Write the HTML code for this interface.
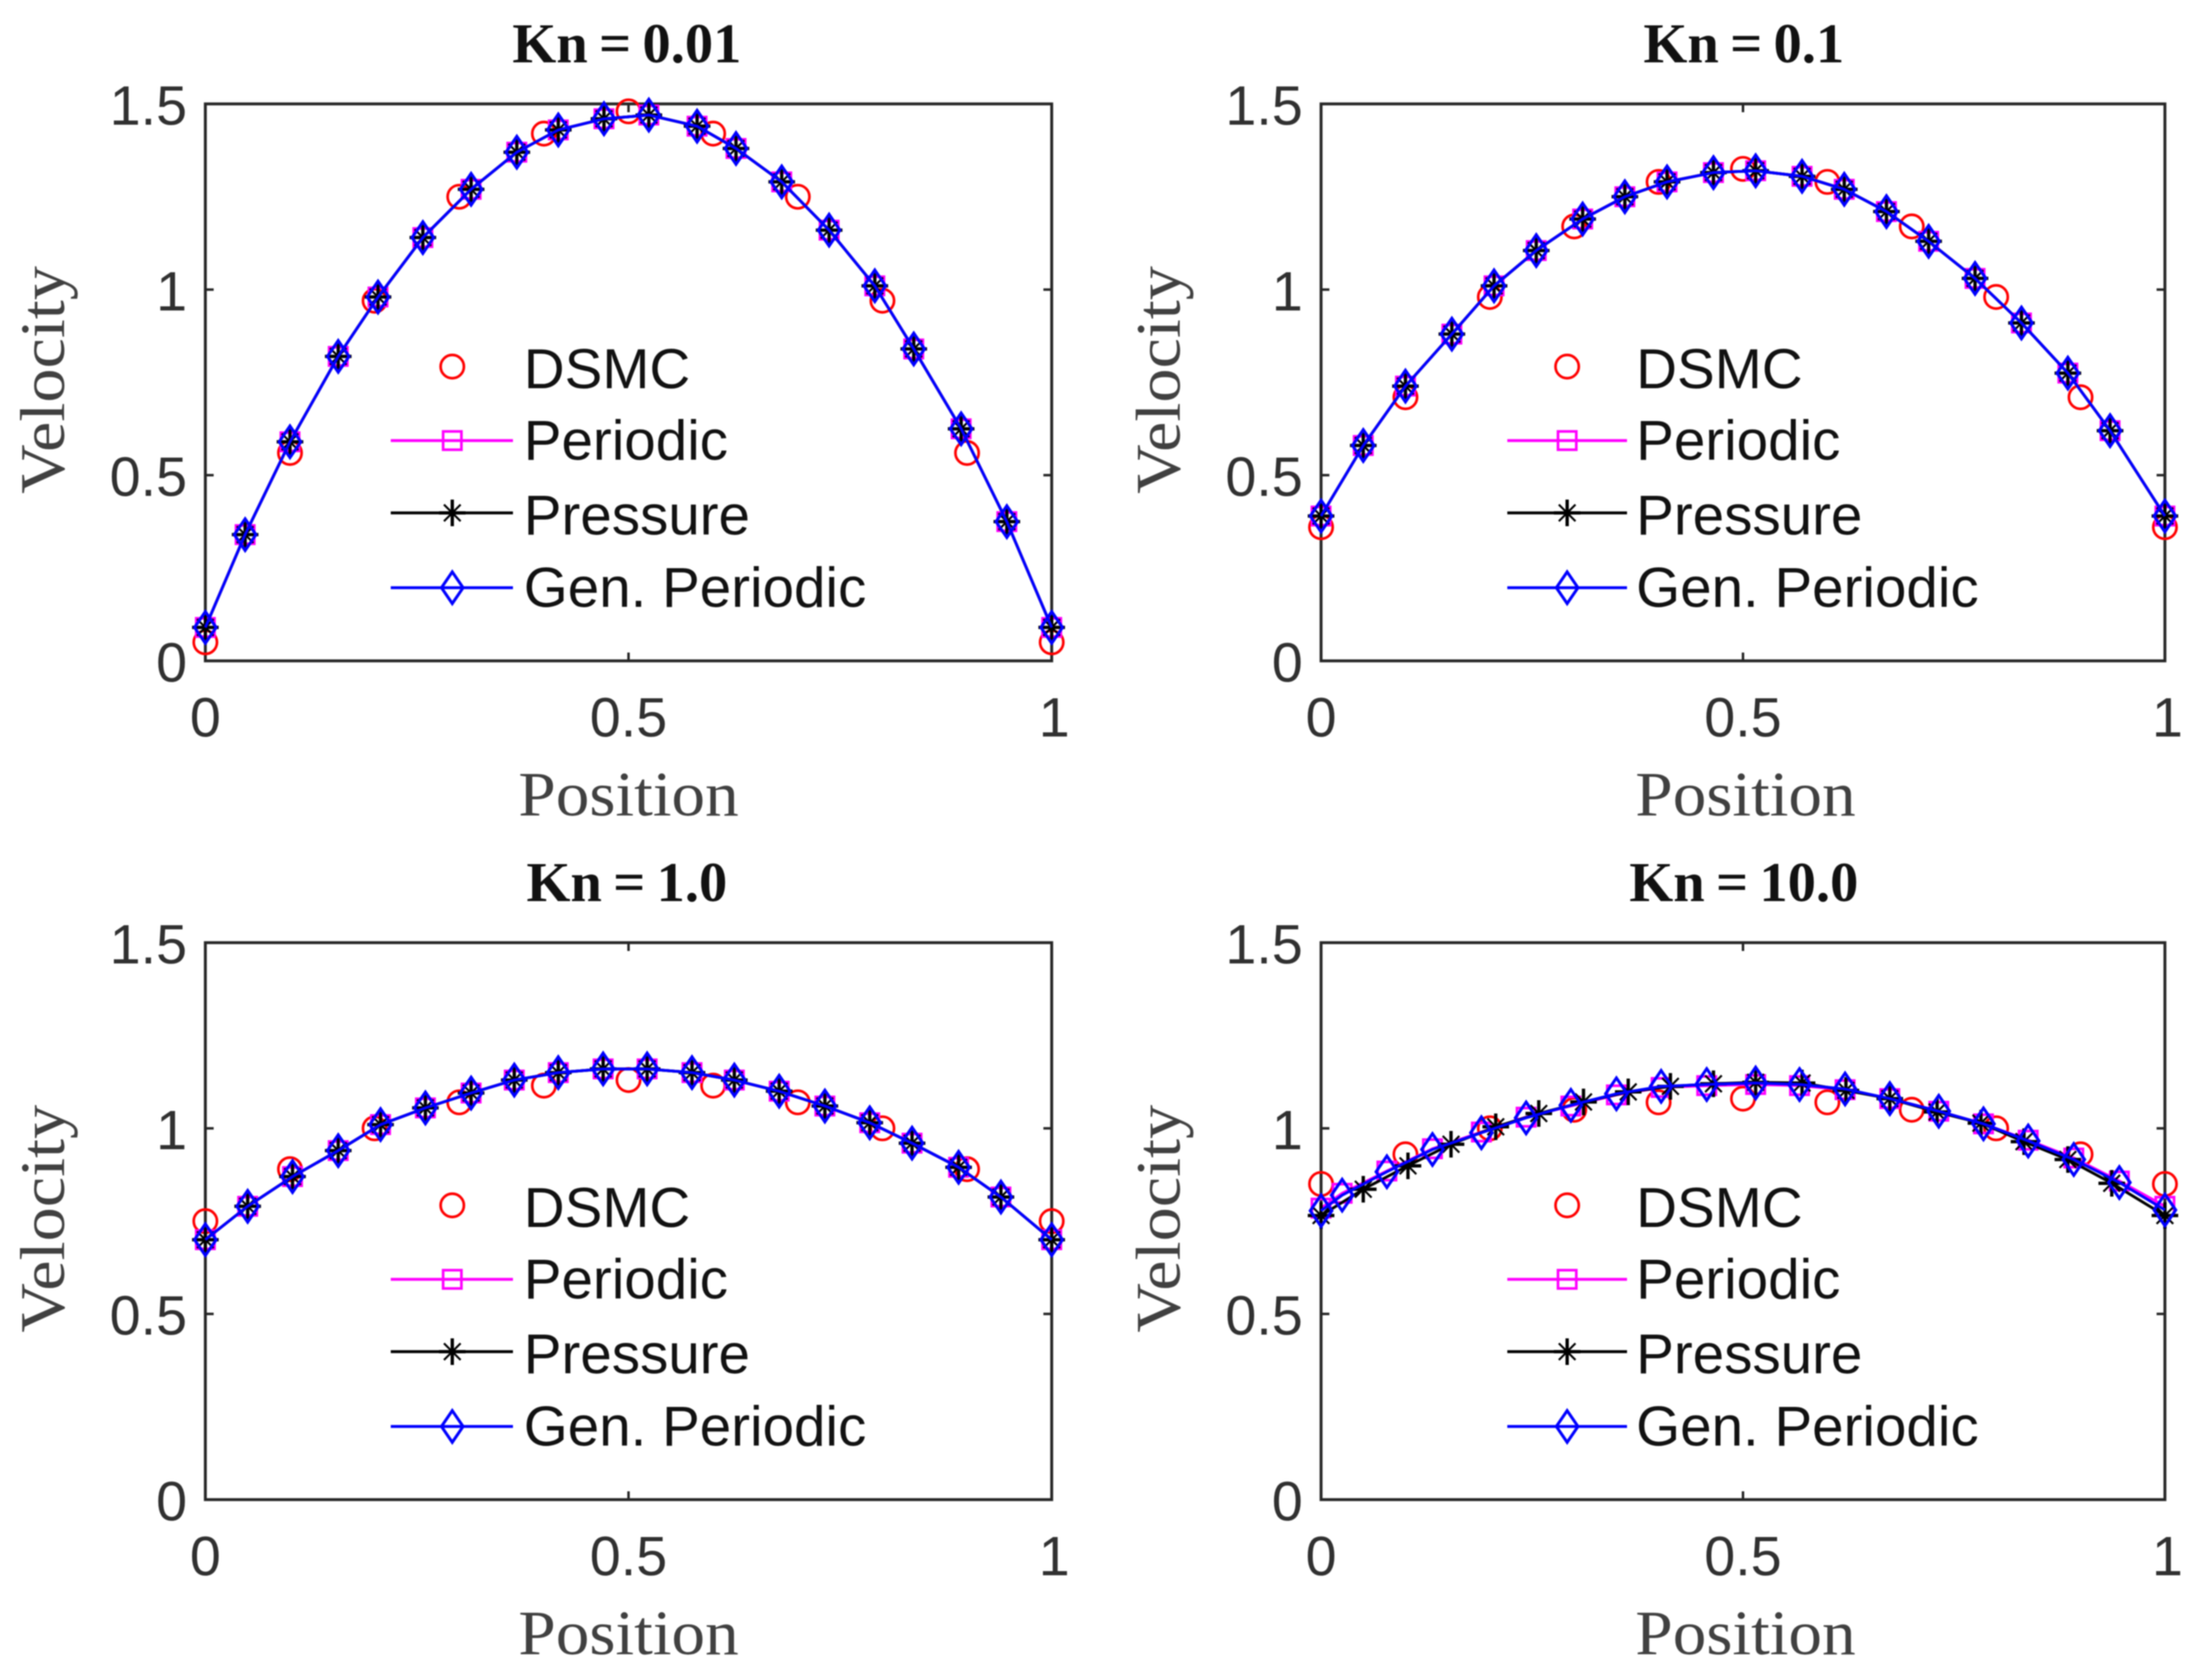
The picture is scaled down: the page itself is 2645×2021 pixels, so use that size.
<!DOCTYPE html>
<html lang="en">
<head>
<meta charset="utf-8">
<title>Velocity profiles at four Knudsen numbers</title>
<style>
html,body{margin:0;padding:0;background:#fff;width:2645px;height:2021px;overflow:hidden}
svg{display:block;filter:blur(0.7px)}
</style>
</head>
<body>
<svg id="figure" xmlns="http://www.w3.org/2000/svg" width="2645" height="2021" viewBox="0 0 2645 2021"></svg>
<script>
const panelTitles = ["Kn = 0.01", "Kn = 0.1", "Kn = 1.0", "Kn = 10.0"];
const panelNames = ["kn-0-01", "kn-0-1", "kn-1-0", "kn-10-0"];
const xTickValues = [0, 0.5, 1];
const xTickLabels = ["0", "0.5", "1"];
const yTickValues = [0, 0.5, 1, 1.5];
const yTickLabels = ["0", "0.5", "1", "1.5"];
const legendLabels = ["DSMC", "Periodic", "Pressure", "Gen. Periodic"];

const dsmcX = [0, 0.1, 0.2, 0.3, 0.4, 0.5, 0.6, 0.7, 0.8, 0.9, 1];
const dsmcY1 = [0.05, 0.56, 0.97, 1.25, 1.42, 1.48, 1.42, 1.25, 0.97, 0.56, 0.05];
const dsmcY2 = [0.36, 0.71, 0.98, 1.17, 1.29, 1.325, 1.29, 1.17, 0.98, 0.71, 0.36];
const dsmcY3 = [0.75, 0.89, 1.0, 1.07, 1.115, 1.13, 1.115, 1.07, 1.0, 0.89, 0.75];
const dsmcY4 = [0.85, 0.93, 1.0, 1.05, 1.07, 1.08, 1.07, 1.05, 1.0, 0.93, 0.85];

const modelX1 = [0, 0.047, 0.1, 0.157, 0.204, 0.257, 0.314, 0.368, 0.417, 0.471, 0.524, 0.581, 0.627, 0.681, 0.737, 0.791, 0.837, 0.893, 0.947, 1];
const modelY1 = [0.09, 0.34, 0.59, 0.82, 0.98, 1.14, 1.27, 1.37, 1.43, 1.46, 1.47, 1.44, 1.38, 1.29, 1.16, 1.01, 0.84, 0.625, 0.375, 0.09];
const modelX2 = [0, 0.05, 0.1, 0.155, 0.205, 0.255, 0.31, 0.36, 0.41, 0.465, 0.515, 0.57, 0.62, 0.67, 0.72, 0.775, 0.83, 0.885, 0.935, 1];
const modelY2 = [0.39, 0.58, 0.74, 0.88, 1.01, 1.105, 1.19, 1.25, 1.29, 1.315, 1.32, 1.305, 1.27, 1.21, 1.13, 1.03, 0.91, 0.775, 0.62, 0.39];
const modelX3 = [0, 0.05, 0.103, 0.157, 0.207, 0.26, 0.314, 0.365, 0.417, 0.47, 0.522, 0.575, 0.625, 0.678, 0.732, 0.785, 0.835, 0.89, 0.94, 1];
const modelY3 = [0.7, 0.79, 0.87, 0.94, 1.01, 1.055, 1.095, 1.13, 1.15, 1.16, 1.16, 1.15, 1.13, 1.1, 1.06, 1.015, 0.96, 0.895, 0.815, 0.7];

const genX4 = [0, 0.025, 0.078, 0.132, 0.19, 0.243, 0.296, 0.35, 0.403, 0.457, 0.515, 0.567, 0.621, 0.674, 0.732, 0.785, 0.838, 0.892, 0.946, 1];
const genY4 = [0.778, 0.82, 0.883, 0.943, 0.988, 1.028, 1.062, 1.093, 1.113, 1.118, 1.122, 1.118, 1.106, 1.08, 1.046, 1.012, 0.966, 0.916, 0.854, 0.78];
const periodicY4 = [0.785, 0.825, 0.885, 0.945, 0.99, 1.03, 1.06, 1.09, 1.11, 1.115, 1.118, 1.115, 1.104, 1.08, 1.046, 1.012, 0.968, 0.92, 0.858, 0.79];
const pressureX4 = [0, 0.05, 0.103, 0.154, 0.207, 0.258, 0.311, 0.364, 0.414, 0.465, 0.515, 0.57, 0.622, 0.674, 0.73, 0.782, 0.833, 0.885, 0.937, 1];
const pressureY4 = [0.765, 0.836, 0.899, 0.957, 1.004, 1.04, 1.071, 1.098, 1.113, 1.12, 1.124, 1.122, 1.102, 1.08, 1.044, 1.014, 0.964, 0.916, 0.852, 0.765];

const dsmcSets = [dsmcY1, dsmcY2, dsmcY3, dsmcY4];
const periodicXSets = [modelX1, modelX2, modelX3, genX4];
const periodicYSets = [modelY1, modelY2, modelY3, periodicY4];
const pressureXSets = [modelX1, modelX2, modelX3, pressureX4];
const pressureYSets = [modelY1, modelY2, modelY3, pressureY4];
const genXSets = [modelX1, modelX2, modelX3, genX4];
const genYSets = [modelY1, modelY2, modelY3, genY4];

const NS = "http://www.w3.org/2000/svg";
const figure = document.getElementById("figure");
const SERIF = '"Liberation Serif", serif';
const SANS = '"Liberation Sans", sans-serif';
const AXIS = "#262626";
const plotWidth = 1018;
const plotHeight = 670;

function make(parent, tag, attrs, text) {
  const node = document.createElementNS(NS, tag);
  for (const key in attrs) node.setAttribute(key, attrs[key]);
  if (text !== undefined) node.textContent = text;
  parent.appendChild(node);
  return node;
}

function drawCircle(parent, cx, cy, name) {
  const el = make(parent, "circle", {cx: cx, cy: cy, r: 14, fill: "none", stroke: "#ff0000", "stroke-width": 3.2});
  
  
}
function drawSquare(parent, cx, cy, name) {
  const el = make(parent, "rect", {x: cx - 11, y: cy - 11, width: 22, height: 22, fill: "none", stroke: "#ff00ff", "stroke-width": 3.2});
  
  
}
function drawStar(parent, cx, cy, name) {
  const g = make(parent, "g", {stroke: "#000000", fill: "none"});
  
  
  make(g, "path", {d: "M" + cx + " " + (cy - 16) + "V" + (cy + 16) + "M" + (cx - 16) + " " + cy + "H" + (cx + 16), "stroke-width": 4});
  make(g, "path", {d: "M" + (cx - 10) + " " + (cy - 10) + "L" + (cx + 10) + " " + (cy + 10) + "M" + (cx - 10) + " " + (cy + 10) + "L" + (cx + 10) + " " + (cy - 10), "stroke-width": 2.5});
}
function drawDiamond(parent, cx, cy, name) {
  const el = make(parent, "path", {d: "M" + cx + " " + (cy - 19) + "L" + (cx + 13) + " " + cy + "L" + cx + " " + (cy + 19) + "L" + (cx - 13) + " " + cy + "Z", fill: "none", stroke: "#0000ff", "stroke-width": 3.6});
  
  
}

function drawSeries(parent, xs, ys, sx, sy, color, marker, name) {
  const group = make(parent, "g", {});
  
  
  if (color) {
    const pts = xs.map(function (v, i) { return sx(v).toFixed(1) + "," + sy(ys[i]).toFixed(1); }).join(" ");
    const line = make(group, "polyline", {points: pts, fill: "none", stroke: color, "stroke-width": 3.4});
    
    
  }
  xs.forEach(function (v, i) { marker(group, sx(v), sy(ys[i]), name + '-point'); });
}

function drawPanel(index) {
  const isRight = index % 2 === 1;
  const left = isRight ? 1589 : 247;
  const top = index < 2 ? 125 : 1134;
  const sx = function (v) { return left + v / 1 * (isRight ? plotWidth - 3 : plotWidth); };
  const sy = function (v) { return top + plotHeight - v / 1.5 * plotHeight; };
  const right = sx(1);
  const bottom = top + plotHeight;
  const center = (left + right) / 2;
  const textShift = isRight ? 3 : 0;

  const panel = make(figure, "g", {});
  
  

  const title = make(panel, "text", {x: center - 2 + textShift, y: top - 50, "text-anchor": "middle", "font-family": SERIF, "font-weight": "bold", "font-size": 68, "word-spacing": "-3.5px", fill: "#111"}, panelTitles[index]);
  
  

  const box = make(panel, "rect", {x: left, y: top, width: right - left, height: plotHeight, fill: "#fff", stroke: AXIS, "stroke-width": 3.5});
  
  

  xTickValues.forEach(function (v, i) {
    const px = sx(v);
    const mark = make(panel, "path", {d: "M" + px + " " + bottom + "v-10M" + px + " " + top + "v10", stroke: AXIS, "stroke-width": 3, fill: "none"});
    
    
    const label = make(panel, "text", {x: px + (v === 1 ? 3 : 0), y: bottom + 91, "text-anchor": "middle", "font-family": SANS, "font-size": 67, fill: "#303030"}, xTickLabels[i]);
    
    
  });
  yTickValues.forEach(function (v, i) {
    const py = sy(v);
    const mark = make(panel, "path", {d: "M" + left + " " + py + "h10M" + right + " " + py + "h-10", stroke: AXIS, "stroke-width": 3, fill: "none"});
    
    
    const label = make(panel, "text", {x: left - 22, y: py + 25, "text-anchor": "end", "font-family": SANS, "font-size": 67, fill: "#303030"}, yTickLabels[i]);
    
    
  });

  const xTitle = make(panel, "text", {x: center + textShift, y: bottom + 186, "text-anchor": "middle", "font-family": SERIF, "font-size": 76, textLength: 265, lengthAdjust: "spacingAndGlyphs", fill: "#404040"}, "Position");
  
  

  const yTitle = make(panel, "text", {transform: "translate(" + (left - 170) + " " + (top + 332) + ") rotate(-90)", "text-anchor": "middle", "font-family": SERIF, "font-size": 76, textLength: 274, lengthAdjust: "spacingAndGlyphs", fill: "#404040"}, "Velocity");
  
  

  drawSeries(panel, dsmcX, dsmcSets[index], sx, sy, null, drawCircle, 'dsmc');
  drawSeries(panel, periodicXSets[index], periodicYSets[index], sx, sy, "#ff00ff", drawSquare, 'periodic');
  drawSeries(panel, pressureXSets[index], pressureYSets[index], sx, sy, "#000000", drawStar, 'pressure');
  drawSeries(panel, genXSets[index], genYSets[index], sx, sy, "#0000ff", drawDiamond, 'gen-periodic');

  const legend = make(panel, "g", {});
  
  
  const legendRows = [316, 405, 492, 582];
  const legendBaselines = [342, 428, 518, 605];
  const legendColors = [null, "#ff00ff", "#000000", "#0000ff"];
  const legendMarkers = [drawCircle, drawSquare, drawStar, drawDiamond];
  const lineStart = left + (isRight ? 224 : 223);
  const lineEnd = left + (isRight ? 368 : 370);
  const markerX = left + (isRight ? 296 : 297);
  const labelX = left + (isRight ? 379 : 383);
  legendLabels.forEach(function (text, i) {
    const rowY = top + legendRows[i];
    const entry = make(legend, "g", {});
    
    
    if (legendColors[i]) {
      make(entry, "line", {x1: lineStart, x2: lineEnd, y1: rowY, y2: rowY, stroke: legendColors[i], "stroke-width": 3.4});
    }
    legendMarkers[i](entry, markerX, rowY, 'legend-marker');
    const label = make(entry, "text", {x: labelX, y: top + legendBaselines[i], "font-family": SANS, "font-size": 68, fill: "#111"}, text);
    
    
  });
}

[0, 1, 2, 3].forEach(drawPanel);
</script>
</body>
</html>
